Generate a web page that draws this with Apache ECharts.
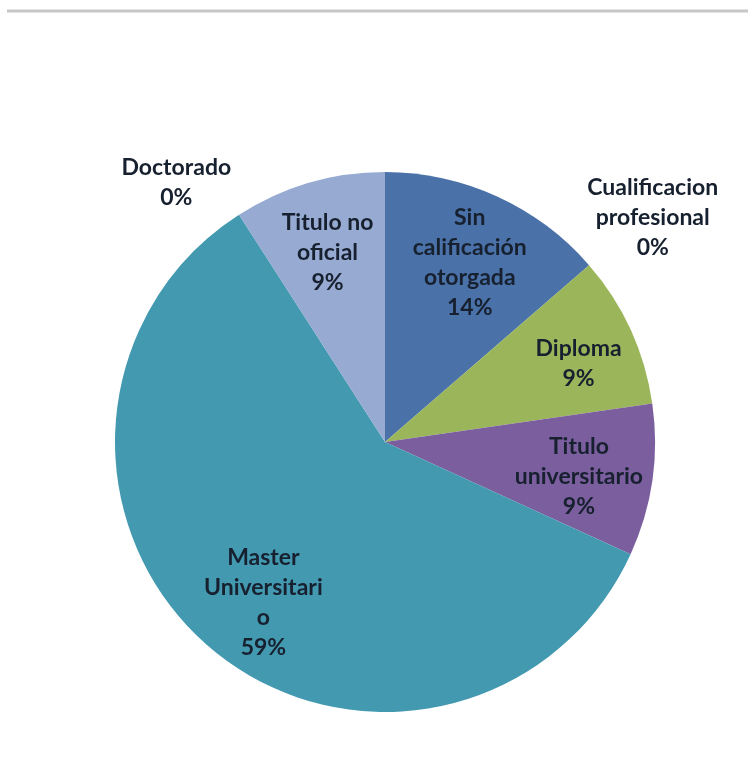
<!DOCTYPE html>
<html>
<head>
<meta charset="utf-8">
<style>
  html, body { margin: 0; padding: 0; background: #ffffff; }
  #chart { width: 748px; height: 767px; }
</style>
<script src="https://cdn.jsdelivr.net/npm/echarts@6/dist/echarts.min.js"></script>
</head>
<body>
<div id="chart"></div>
<script>
// Categories in clockwise order from 12 o'clock, with the line breaks used in the labels
const categories = [
  'Sin\ncalificación\notorgada',
  'Cualificacion\nprofesional',
  'Diploma',
  'Titulo\nuniversitario',
  'Master\nUniversitari\no',
  'Doctorado',
  'Titulo no\noficial'
];
// Number of people per qualification
const counts = [3, 0, 2, 2, 13, 0, 2];
const sliceColors = ['#4a72a9', '#c0504d', '#9bb65a', '#7b5e9e', '#4399b0', '#f79646', '#96aad2'];

const pieCenter = [385, 442];
const labelCenter = [385, 448];   // label rings sit a touch lower than the pie itself
const outerR = 270;
const labelFont = {
  fontFamily: 'Lato, "Open Sans", sans-serif',
  fontWeight: 'bold',
  fontSize: 23,
  lineHeight: 30,
  color: '#17202f'
};
// small horizontal nudges for a few inside labels
const insideNudgeX = [0, 0, 8, -8, 12, 0, 0];

const sliceData = categories.map((name, i) => ({
  name: name,
  value: counts[i],
  itemStyle: { color: sliceColors[i] }
}));

// Zero-count categories get their labels outside the pie
const insideLabelData = categories.map((name, i) => ({
  name: name,
  value: counts[i],
  label: { show: counts[i] > 0 }
}));
const outsideLabelData = categories.map((name, i) => ({
  name: name,
  value: counts[i],
  label: { show: counts[i] === 0 }
}));

const chart = echarts.init(document.getElementById('chart'), null, { renderer: 'canvas' });
chart.setOption({
  backgroundColor: '#ffffff',
  animation: false,
  graphic: [{
    type: 'line',
    shape: { x1: 7, y1: 11, x2: 748, y2: 11 },
    style: { stroke: '#c8c8c8', lineWidth: 3 }
  }],
  series: [
    {
      type: 'pie',
      center: pieCenter,
      radius: [0, outerR],
      startAngle: 90,
      clockwise: true,
      silent: true,
      label: { show: false },
      labelLine: { show: false },
      itemStyle: { borderWidth: 0 },
      data: sliceData
    },
    {
      // transparent ring that only carries the inside labels
      type: 'pie',
      center: labelCenter,
      radius: [132, outerR],
      startAngle: 90,
      clockwise: true,
      silent: true,
      percentPrecision: 0,
      itemStyle: { color: 'rgba(0,0,0,0)' },
      labelLine: { show: false },
      label: Object.assign({ position: 'inside', formatter: '{b}\n{d}%' }, labelFont),
      labelLayout: function (params) {
        return { dx: insideNudgeX[params.dataIndex] || 0 };
      },
      data: insideLabelData
    },
    {
      // transparent ring outside the pie for the zero-count labels
      type: 'pie',
      center: pieCenter,
      radius: [312, 380],
      startAngle: 90,
      clockwise: true,
      silent: true,
      percentPrecision: 0,
      minShowLabelAngle: 0,
      itemStyle: { color: 'rgba(0,0,0,0)' },
      labelLine: { show: false },
      label: Object.assign({ position: 'inside', formatter: '{b}\n{d}%' }, labelFont),
      labelLayout: function (params) {
        // pull the Doctorado label a little further round to the left
        if (params.dataIndex === 5) return { dx: -20, dy: 34 };
        return { dx: 4, dy: 4 };
      },
      data: outsideLabelData
    }
  ]
});
</script>
</body>
</html>
